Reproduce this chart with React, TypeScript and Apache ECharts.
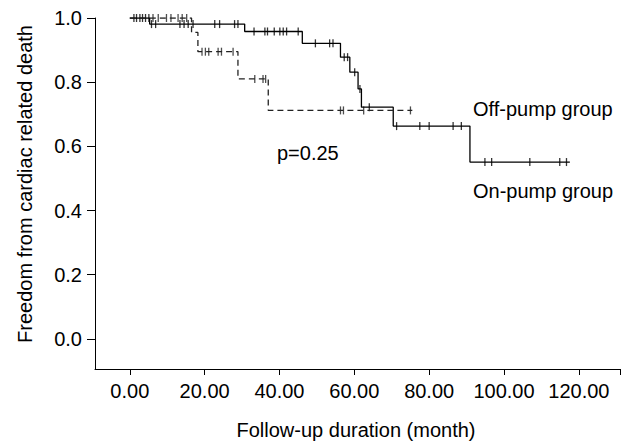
import { useEffect, useRef } from "react";
import * as echarts from "echarts";

// Tick values
const xTickValues = [0, 20, 40, 60, 80, 100, 120];
const yTickValues = [0, 0.2, 0.4, 0.6, 0.8, 1.0];

// Solid curve (Kaplan-Meier steps)
const solidTimes = [0, 5.3, 30.7, 46.1, 56.3, 58.8, 61.0, 61.9, 70.4, 90.9, 117.6];
const solidSurv = [1, 0.981, 0.958, 0.921, 0.878, 0.831, 0.779, 0.722, 0.663, 0.551, 0.551];
const solidCensored = [
  1.1, 1.8, 2.7, 3.4, 4.2, 5.1,
  5.8, 6.9, 13.4, 14.5, 15.6, 16.9, 22.7, 24, 28, 28.9,
  33.2, 36.1, 36.8, 38.6, 40.1, 41, 41.9, 45,
  49.6, 53.4, 54.3,
  57.3, 58.2,
  60.1,
  61.5,
  64,
  71.3, 77.5, 80, 86.4, 88.6,
  94.9, 96.7, 106.9, 114.9, 116.7,
];

// Dashed curve
const dashedTimes = [0, 16.5, 18.2, 28.9, 37.0, 75.5];
const dashedSurv = [1, 0.955, 0.895, 0.81, 0.712, 0.712];
const dashedCensored = [
  6.2, 7.6, 9.8, 11, 12.9, 14, 15.2,
  19.3, 20.2, 21.1, 23.6, 24.5, 27.6,
  33.4, 35.6, 36.3,
  56.3, 57.1, 62.5, 75,
];

const groupLabels = ["Off-pump group", "On-pump group"];
const pValueText = "p=0.25";
const xAxisTitle = "Follow-up duration (month)";
const yAxisTitle = "Freedom from cardiac related death";

function survAt(times: number[], surv: number[], t: number): number {
  let s = surv[0];
  for (let i = 0; i < times.length; i++) {
    if (times[i] <= t) s = surv[i];
  }
  return s;
}

const FONT = "Liberation Sans, Arial, Helvetica, sans-serif";

export default function App() {
  const ref = useRef<HTMLDivElement>(null);
  useEffect(() => {
    document.body.style.margin = "0";
    if (!ref.current) return;
    const chart = echarts.init(ref.current, null, { renderer: "svg" });
    const solidData = solidTimes.map((t, i) => [t, solidSurv[i]]);
    const dashedData = dashedTimes.map((t, i) => [t, dashedSurv[i]]);
    const solidCens = solidCensored.map((t) => [t, survAt(solidTimes, solidSurv, t)]);
    const dashedCens = dashedCensored.map((t) => [t, survAt(dashedTimes, dashedSurv, t)]);

    chart.setOption({
      animation: false,
      backgroundColor: "#fff",
      grid: { left: 95, right: 13, top: 18, bottom: 72, containLabel: false },
      xAxis: {
        type: "value",
        min: -9.3,
        max: 131,
        axisLine: { show: true, onZero: false, lineStyle: { color: "#000", width: 1 } },
        axisTick: {
          show: true,
          customValues: [...xTickValues, 131],
          length: 6,
          lineStyle: { color: "#000", width: 1 },
        },
        axisLabel: {
          customValues: xTickValues,
          formatter: (v: number) => v.toFixed(2),
          fontSize: 20,
          fontFamily: FONT,
          color: "#000",
          margin: 12,
        },
        splitLine: { show: false },
      },
      yAxis: {
        type: "value",
        min: -0.094,
        max: 1.0,
        axisLine: { show: true, onZero: false, lineStyle: { color: "#000", width: 1 } },
        axisTick: {
          show: true,
          customValues: yTickValues,
          length: 8,
          lineStyle: { color: "#000", width: 1 },
        },
        axisLabel: {
          customValues: yTickValues,
          formatter: (v: number) => v.toFixed(1),
          fontSize: 20,
          fontFamily: FONT,
          color: "#000",
          margin: 13,
        },
        splitLine: { show: false },
      },
      graphic: [
        {
          type: "text",
          x: 25,
          y: 184,
          rotation: Math.PI / 2,
          style: {
            text: yAxisTitle,
            font: `20px ${FONT}`,
            fill: "#000",
            align: "center",
            verticalAlign: "middle",
          },
        },
        {
          type: "text",
          x: 356,
          y: 430,
          style: {
            text: xAxisTitle,
            font: `20px ${FONT}`,
            fill: "#000",
            align: "center",
            verticalAlign: "middle",
          },
        },
        {
          type: "text",
          x: 473,
          y: 109,
          style: {
            text: groupLabels[0],
            font: `20px ${FONT}`,
            fill: "#000",
            align: "left",
            verticalAlign: "middle",
          },
        },
        {
          type: "text",
          x: 473,
          y: 191,
          style: {
            text: groupLabels[1],
            font: `20px ${FONT}`,
            fill: "#000",
            align: "left",
            verticalAlign: "middle",
          },
        },
        {
          type: "text",
          x: 277,
          y: 153,
          style: {
            text: pValueText,
            font: `20px ${FONT}`,
            fill: "#000",
            align: "left",
            verticalAlign: "middle",
          },
        },
      ],
      series: [
        {
          name: "solid",
          type: "line",
          step: "end",
          data: solidData,
          showSymbol: false,
          lineStyle: { color: "#000", width: 1.3 },
        },
        {
          name: "dashed",
          type: "line",
          step: "end",
          data: dashedData,
          showSymbol: false,
          lineStyle: { color: "#222", width: 1.3, type: [6, 4] },
        },
        {
          name: "solidCensor",
          type: "scatter",
          data: solidCens,
          symbol: "rect",
          symbolSize: [1.3, 8],
          itemStyle: { color: "#000" },
        },
        {
          name: "dashedCensor",
          type: "scatter",
          data: dashedCens,
          symbol: "rect",
          symbolSize: [1.3, 8],
          itemStyle: { color: "#222" },
        },
      ],
    });
    return () => chart.dispose();
  }, []);
  return <div ref={ref} style={{ width: 633, height: 441 }} />;
}
